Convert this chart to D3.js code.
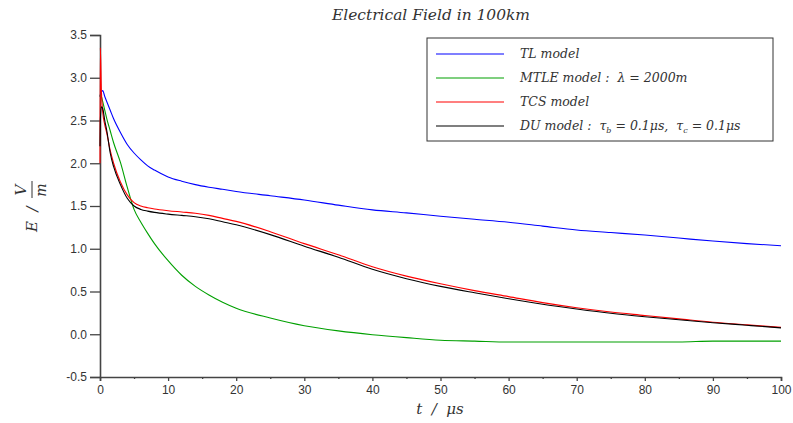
<!DOCTYPE html>
<html>
<head>
<meta charset="utf-8">
<script src="https://cdn.jsdelivr.net/npm/d3@7"></script>
<style>
  body { margin: 0; background: #fff; }
  svg { display: block; }
  .tick text { font-family: "Liberation Sans", Arial, sans-serif; font-size: 12px; fill: #333; }
  .math { font-family: "DejaVu Serif", serif; font-style: italic; fill: #333; white-space: pre; }
</style>
</head>
<body>
<svg id="chart" width="793" height="423"></svg>
<script>
// Time samples (microseconds) shared by all four models.
const timeUs = [0, 0.05, 0.2, 0.4, 0.7, 1, 1.5, 2, 3, 4, 5, 6, 7, 8, 10, 12, 14, 16, 18, 20,
    25, 30, 35, 40, 45, 50, 55, 60, 65, 70, 75, 80, 85, 90, 95, 100];

// Field values in V/m.
const tlModel = [2.78, 2.8, 2.83, 2.85, 2.78, 2.72, 2.62, 2.52, 2.36, 2.22, 2.12, 2.04, 1.97, 1.92, 1.84, 1.79, 1.75, 1.72, 1.695, 1.67,
    1.62, 1.57, 1.51, 1.455, 1.42, 1.38, 1.345, 1.31, 1.265, 1.22, 1.19, 1.16, 1.125, 1.09, 1.06, 1.035];
const mtleModel = [2.78, 2.8, 2.78, 2.72, 2.62, 2.52, 2.38, 2.24, 2.01, 1.72, 1.46, 1.31, 1.18, 1.06, 0.86, 0.69, 0.56, 0.46, 0.375, 0.305,
    0.19, 0.10, 0.04, -0.005, -0.04, -0.07, -0.08, -0.09, -0.09, -0.09, -0.09, -0.09, -0.09, -0.08, -0.08, -0.08];
const tcsModel = [2.0, 3.35, 2.85, 2.6, 2.45, 2.35, 2.15, 2.0, 1.78, 1.63, 1.54, 1.50, 1.48, 1.465, 1.445, 1.43, 1.415, 1.39, 1.355, 1.32,
    1.2, 1.06, 0.93, 0.79, 0.68, 0.59, 0.51, 0.44, 0.37, 0.31, 0.26, 0.22, 0.18, 0.14, 0.11, 0.08];
const duModel = [2.2, 2.5, 2.66, 2.64, 2.5, 2.38, 2.12, 1.96, 1.75, 1.59, 1.50, 1.46, 1.44, 1.425, 1.405, 1.39, 1.375, 1.35, 1.315, 1.28,
    1.165, 1.03, 0.90, 0.76, 0.65, 0.56, 0.485, 0.415, 0.35, 0.295, 0.245, 0.205, 0.17, 0.135, 0.105, 0.075];

const xTicks = [0, 10, 20, 30, 40, 50, 60, 70, 80, 90, 100];
const yTicks = [-0.5, 0, 0.5, 1, 1.5, 2, 2.5, 3, 3.5];

const series = [
    {values: tlModel, color: "#0000ff"},
    {values: mtleModel, color: "#00a000"},
    {values: tcsModel, color: "#ff0000"},
    {values: duModel, color: "#000000"}
];

let svg = d3.select("#chart");

let x = d3.scaleLinear().domain([0, 100]).range([100, 781]);
let y = d3.scaleLinear().domain([-0.5, 3.5]).range([377, 35]);

// Title
svg.append("text")
    .attr("class", "math")
    .attr("x", 431).attr("y", 20)
    .attr("text-anchor", "middle")
    .style("font-size", "14px")
    .attr("textLength", 198).attr("lengthAdjust", "spacingAndGlyphs")
    .text("Electrical Field in 100km");

// Axes
let xAxis = svg.append("g")
    .attr("transform", "translate(0,377)")
    .call(d3.axisBottom(x).tickValues(xTicks).tickSize(4).tickPadding(6).tickFormat(d3.format("d")));
svg.append("g")
    .attr("transform", "translate(0,377)")
    .call(d3.axisBottom(x).tickValues(d3.range(5, 100, 10)).tickSize(2).tickFormat(""))
    .select(".domain").remove();
let yAxis = svg.append("g")
    .attr("transform", "translate(100,0)")
    .call(d3.axisLeft(y).tickValues(yTicks).tickSize(10).tickPadding(3).tickFormat(d => d.toFixed(1)));

svg.selectAll(".domain").attr("stroke", "#444").attr("stroke-width", 1.6);
svg.selectAll(".tick line").attr("stroke", "#444").attr("stroke-width", 1.3);
xAxis.selectAll(".tick text").attr("dy", "0.6em");

// Curves
let line = d3.line()
    .x((d, i) => x(timeUs[i]))
    .y(d => y(d))
    .curve(d3.curveMonotoneX);

svg.append("g")
    .selectAll("path")
    .data(series)
    .enter().append("path")
    .attr("fill", "none")
    .attr("stroke", d => d.color)
    .attr("stroke-width", 1.1)
    .attr("d", d => line(d.values));

// Legend
let legend = svg.append("g");
legend.append("rect")
    .attr("x", 427).attr("y", 38).attr("width", 346).attr("height", 103)
    .attr("fill", "#fff").attr("stroke", "#333").attr("stroke-width", 1);

const legendRows = [
    [["TL model"]],
    [["MTLE model :  λ = 2000m"]],
    [["TCS model"]],
    [["DU model :  τ"], ["b", "sub"], [" = 0.1μs,  τ"], ["c", "sub"], [" = 0.1μs"]]
];

legendRows.forEach((parts, i) => {
    let ly = 54 + i * 24;
    legend.append("line")
        .attr("x1", 436).attr("x2", 504).attr("y1", ly).attr("y2", ly)
        .attr("stroke", series[i].color).attr("stroke-width", 1.1);
    let t = legend.append("text")
        .attr("class", "math")
        .attr("x", 520).attr("y", ly + 4)
        .style("font-size", "12.5px");
    parts.forEach(p => {
        let span = t.append("tspan").text(p[0]);
        if (p[1] === "sub") {
            span.attr("dy", 3).style("font-size", "8px");
        } else if (t.selectAll("tspan").size() > 1) {
            span.attr("dy", -3);
        }
    });
});

// Axis titles
svg.append("text")
    .attr("class", "math")
    .attr("x", 440).attr("y", 414)
    .attr("text-anchor", "middle")
    .style("font-size", "15px")
    .text("t  /  μs");

let yl = svg.append("g").attr("transform", "translate(37,232) rotate(-90)");
yl.append("text").attr("class", "math").attr("x", 0).attr("y", 0)
    .style("font-size", "15px").text("E  /");
yl.append("text").attr("class", "math").attr("x", 42).attr("y", -11)
    .attr("text-anchor", "middle").style("font-size", "15px").text("V");
yl.append("line").attr("x1", 34).attr("x2", 51).attr("y1", -5).attr("y2", -5)
    .attr("stroke", "#333").attr("stroke-width", 1);
yl.append("text").attr("class", "math").attr("x", 42).attr("y", 9)
    .attr("text-anchor", "middle").style("font-size", "14px").text("m");
</script>
</body>
</html>
